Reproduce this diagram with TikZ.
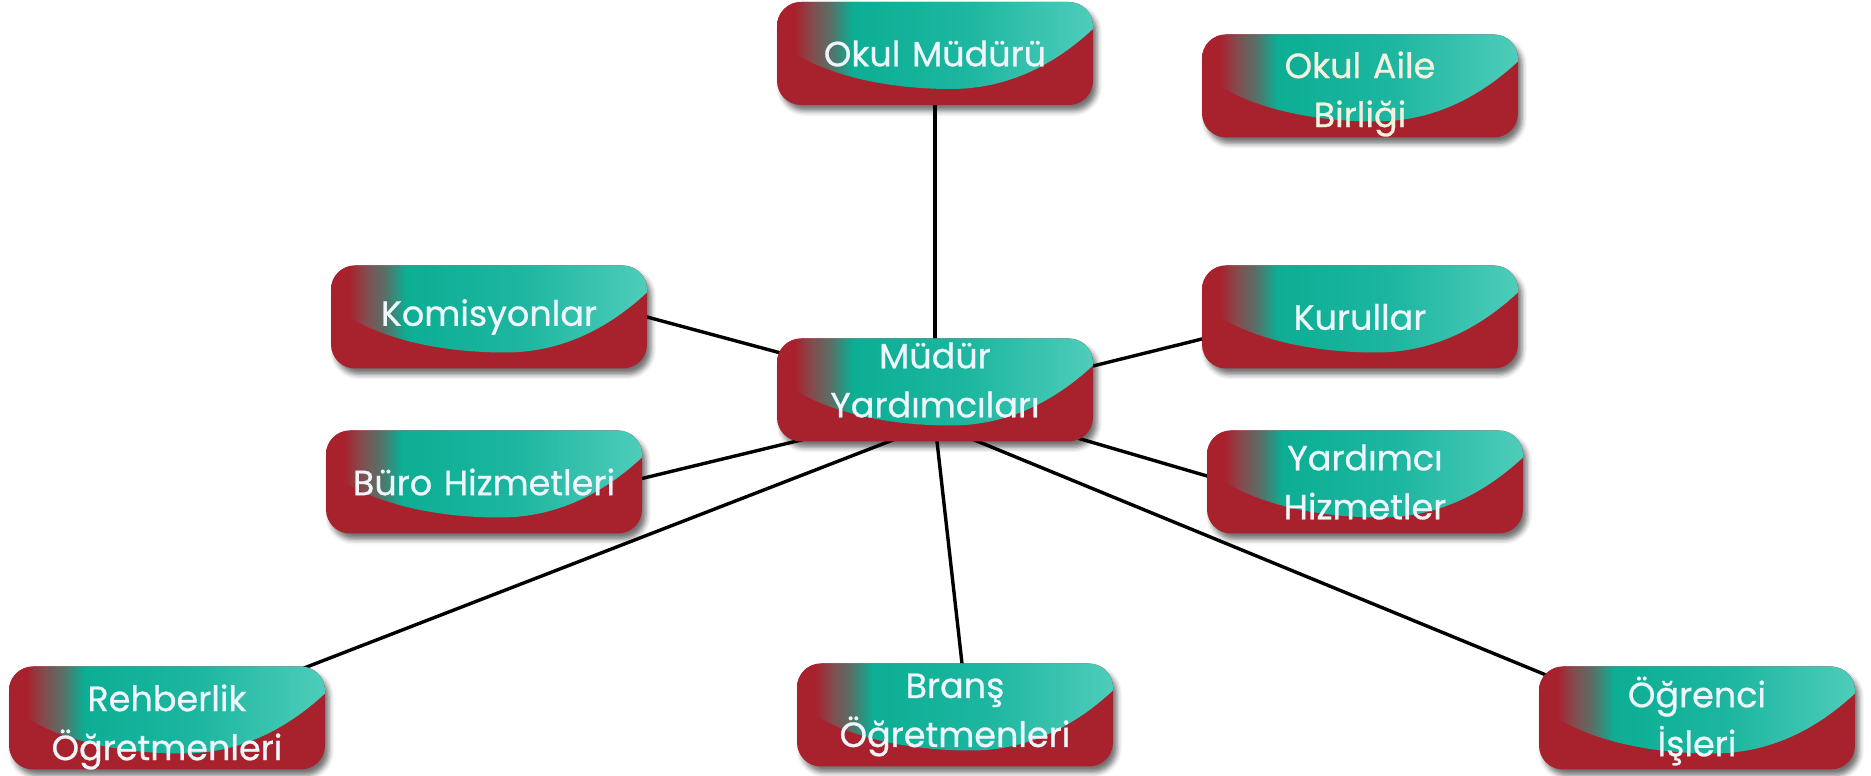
\documentclass[tikz,border=0pt]{standalone}
\usepackage{fontspec}
\setmainfont{Poppins}
\newfontfamily\boxfont{Poppins}[FakeBold=0.7]
\usetikzlibrary{shadows.blur,calc}
\pgfdeclarelayer{bg}
\pgfdeclarelayer{boxes}
\pgfsetlayers{bg,boxes,main}
\definecolor{boxred}{RGB}{168,34,46}
\definecolor{gmixA}{RGB}{134,74,77}
\definecolor{gmixB}{RGB}{90,110,102}
\definecolor{tealA}{RGB}{12,174,148}
\definecolor{tealB}{RGB}{29,182,160}
\definecolor{tealC}{RGB}{78,205,186}
\definecolor{txtcol}{RGB}{238,246,252}
\definecolor{txtcream}{RGB}{246,240,222}
\pgfdeclarehorizontalshading{tealsh}{100bp}{color(0bp)=(boxred); color(28bp)=(boxred); color(30.5bp)=(gmixA); color(33.5bp)=(gmixB); color(37bp)=(tealA); color(55bp)=(tealB); color(75bp)=(tealC); color(100bp)=(tealC)}
\tikzset{
  orgbox/.style={rectangle, minimum width=316pt, minimum height=103pt, outer sep=0pt,
    inner sep=0pt, text width=314pt, align=center, text=txtcol,
    font=\boxfont\fontsize{35}{49}\selectfont},
  boxbg/.style={boxred, rounded corners=24pt,
    blur shadow={shadow xshift=4pt, shadow yshift=-6pt, shadow blur radius=5pt, shadow opacity=55}},
  link/.style={line width=3.4pt, black, shorten <=-8pt, shorten >=-8pt}
}
\newcommand\orgbg[1]{%
  \fill[boxbg] (#1.south west) rectangle (#1.north east);
  \begin{scope}
    \clip[rounded corners=24pt] (#1.south west) rectangle (#1.north east);
    \shade[shading=tealsh] ($(#1.north west)+(-1,1)$) -- ($(#1.north west)+(317,1)$) -- ($(#1.north west)+(317,-26)$)
      .. controls ($(#1.north west)+(284,-57)$) and ($(#1.north west)+(237,-87)$) .. ($(#1.north west)+(174,-87)$)
      .. controls ($(#1.north west)+(95,-87)$) and ($(#1.north west)+(32,-67)$) .. ($(#1.north west)+(-1,-38)$) -- cycle;
  \end{scope}}
\begin{document}
\begin{tikzpicture}[x=1pt,y=1pt]
\useasboundingbox (0,0) rectangle (1871,776);
\node[orgbox] (om)   at (935,722.5) {Okul Müdürü};
\node[orgbox, text=txtcream] (oab)  at (1360,690)  {Okul Aile\\Birliği\par\vspace*{-16pt}};
\node[orgbox] (kom)  at (489,459)   {Komisyonlar};
\node[orgbox] (kur)  at (1360,459)  {Kurullar};
\node[orgbox] (my)   at (935,386)   {Müdür\\Yardımcıları\par\vspace*{20pt}};
\node[orgbox] (buro) at (484,294)   {Büro Hizmetleri};
\node[orgbox] (yh)   at (1365,294)  {Yardımcı\\Hizmetler};
\node[orgbox] (reh)  at (167,58)    {Rehberlik\\Öğretmenleri\par\vspace*{-18pt}};
\node[orgbox] (br)   at (955,61)    {Branş\\Öğretmenleri};
\node[orgbox] (og)   at (1697,58)   {Öğrenci\\İşleri\par\vspace*{-6pt}};
\begin{pgfonlayer}{boxes}
\foreach \n in {om,oab,kom,kur,my,buro,yh,reh,br,og}{\orgbg{\n}}
\end{pgfonlayer}
\begin{pgfonlayer}{bg}
\draw[link] (om.south) -- (my.north);
\draw[link] (kom.east) -- ($(my.west)+(0,38)$);
\draw[link] ($(kur.west)+(0,-22)$) -- ($(my.east)+(0,24)$);
\draw[link] ($(buro.east)+(0,3.5)$) -- ($(my.south)+(-138,0.5)$);
\draw[link] ($(yh.west)+(0,6)$) -- ($(my.south)+(144,3)$);
\draw[link] ($(reh.north)+(141,0)$) -- ($(my.south)+(-46,0)$);
\draw[link] ($(br.north)+(7,0)$) -- ($(my.south)+(2,0)$);
\draw[link] ($(og.center)+(-151,43)$) -- ($(my.south)+(43,0)$);
\end{pgfonlayer}
\end{tikzpicture}
\end{document}
